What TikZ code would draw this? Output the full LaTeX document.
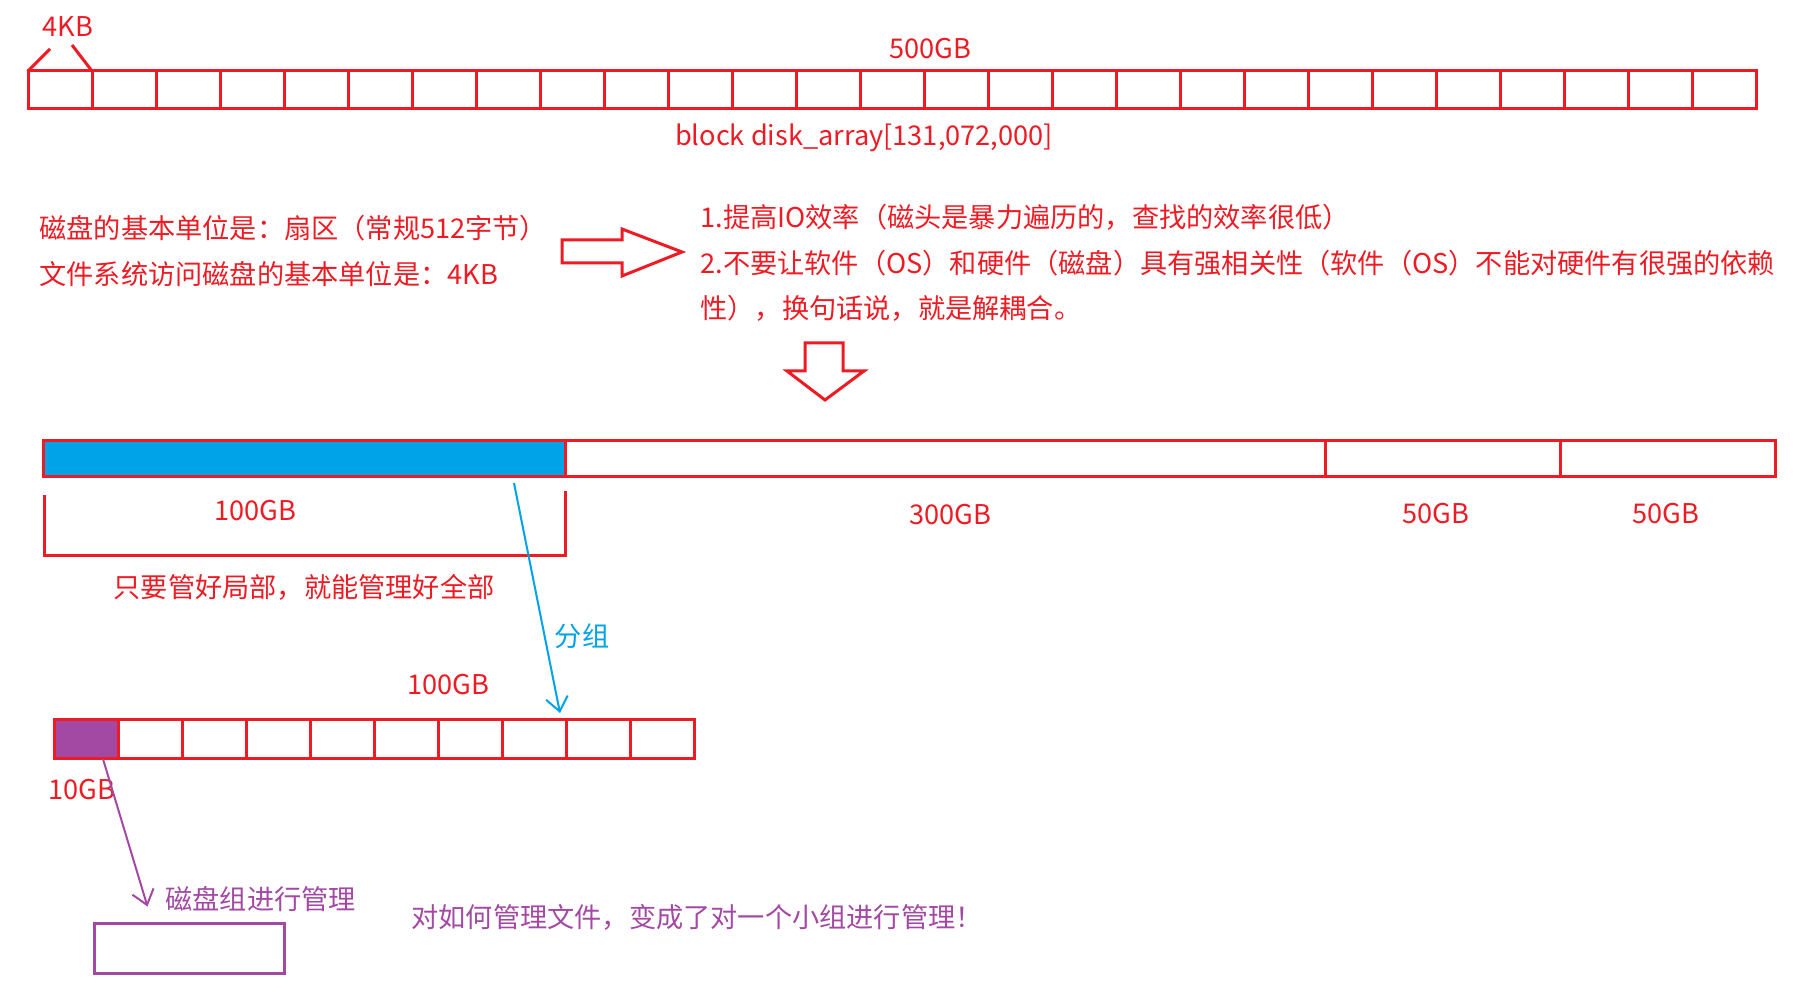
\documentclass[tikz,border=0pt]{standalone}
\usepackage{fontspec}
\newfontfamily\cjkfont{Noto Sans CJK SC}
\usepackage{tikz}
\usetikzlibrary{arrows.meta,positioning,calc}
\definecolor{DiskRed}{HTML}{ED1C24}
\definecolor{DiskBlue}{HTML}{00A2E8}
\definecolor{DiskPurple}{HTML}{A349A4}
\begin{document}
\begin{tikzpicture}[
  x=0.5pt,y=-0.5pt,
  txt/.style={font={\cjkfont\fontsize{13.6pt}{22.8pt}\selectfont},text=DiskRed,inner sep=0pt,align=left},
  cell/.style={draw=DiskRed,line width=1.5pt,minimum width=32pt,minimum height=19pt,inner sep=0pt,outer sep=0pt},
  seg/.style={draw=DiskRed,line width=1.5pt,minimum height=18pt,inner sep=0pt,outer sep=0pt},
  hollow/.style={draw=DiskRed,line width=1.5pt,line join=miter},
  redline/.style={draw=DiskRed,line width=1.5pt},
  grouparrow/.style={-{Straight Barb[length=7pt,width=11pt]},line width=1pt,color=DiskBlue},
  mgrarrow/.style={-{Straight Barb[length=7pt,width=11pt]},line width=1pt,color=DiskPurple}
]
  \useasboundingbox (0,0) rectangle (1809,1005);
  \foreach \i in {1,...,27}
    \node[cell] (c\i) at ({28+64*\i-32},90) {};
  \node[txt] (kb) at (68,27) {4KB};
  \coordinate (kbl) at (50,49);
  \coordinate (kbr) at (72,45);
  \draw[redline] (c1.north west) -- (kbl);
  \draw[redline] (kbr) -- (c1.north east);
  \node[txt] (total) at (930,49) {500GB};
  \node[txt] (arr) at (864,138) {block disk\_array[131,072,000]};

  \node[txt,anchor=west] (unit) at (39,251) {磁盘的基本单位是：扇区（常规512字节）\\文件系统访问磁盘的基本单位是：4KB};
  \draw[hollow] (562,240) -- (622,240) -- (622,229) -- (682,252) -- (622,276) -- (622,263) -- (562,263) -- cycle;
  \node[txt,anchor=west] (why) at (700,263) {1.提高IO效率（磁头是暴力遍历的，查找的效率很低）\\2.不要让软件（OS）和硬件（磁盘）具有强相关性（软件（OS）不能对硬件有很强的依赖\\性），换句话说，就是解耦合。};
  \draw[hollow] (805,343) -- (843,343) -- (843,371) -- (864,371) -- (825,400) -- (787,371) -- (805,371) -- cycle;

  \node[seg,fill=DiskBlue,minimum width=261pt] (seg1) at (304,458) {};
  \node[seg,minimum width=380pt,right=0pt of seg1] (seg2) {};
  \node[seg,minimum width=117.5pt,right=0pt of seg2] (seg3) {};
  \node[seg,minimum width=107.5pt,right=0pt of seg3] (seg4) {};
  \node[txt] (l100) at (255,511) {100GB};
  \node[txt] (l300) at (950,515) {300GB};
  \node[txt] (l50a) at (1436,514) {50GB};
  \node[txt] (l50b) at (1666,514) {50GB};
  \draw[redline] (44,495) |- (565,555) -- (565,491);
  \node[txt] (whole) at (304,587) {只要管好局部，就能管理好全部};

  \node[cell,minimum height=19.5pt,fill=DiskPurple] (b1) at (86,738.5) {};
  \foreach \i in {2,...,10}
    \node[cell,minimum height=19.5pt] (b\i) at ({54+64*\i-32},738.5) {};
  \node[txt] (sub100) at (448,685) {100GB};
  \node[txt,text=DiskBlue] (grouping) at (582,636) {分组};
  \draw[grouparrow] ($(seg1.south east)+(-51,7)$) -- ($(b8.north east)+(-6,-6)$);
  \node[txt] (l10) at (82,790) {10GB};

  \node[draw=DiskPurple,line width=1.5pt,minimum width=95pt,minimum height=25pt,inner sep=0pt] (grp) at (189,948) {};
  \draw[mgrarrow] ($(b1.south)+(17,1)$) -- ($(grp.north west)+(55,-15)$);
  \node[txt,text=DiskPurple,anchor=west] (mgr) at (165,899) {磁盘组进行管理};
  \node[txt,text=DiskPurple,anchor=west] (concl) at (411,917) {对如何管理文件，变成了对一个小组进行管理！};
\end{tikzpicture}
\end{document}
